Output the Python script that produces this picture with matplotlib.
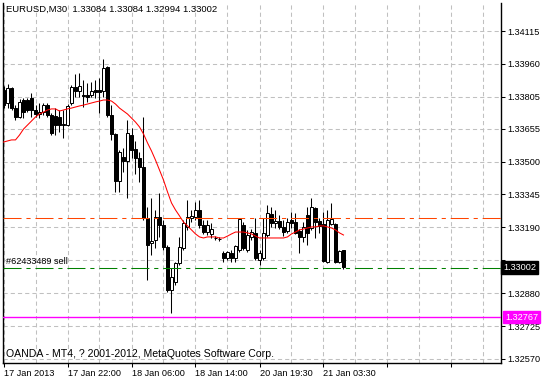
import numpy as np
import matplotlib
matplotlib.use("Agg")
import matplotlib.pyplot as plt
import matplotlib.transforms as mtransforms

plt.rcParams['font.family'] = ['Liberation Sans', 'DejaVu Sans']
plt.rcParams['lines.scale_dashes'] = False

# EURUSD M30 candles, oldest first
opens = [1.33837, 1.33776, 1.33847, 1.33752, 1.33710, 1.33790, 1.33790, 1.33799, 1.33743, 1.33724,
         1.33733, 1.33766, 1.33719, 1.33715, 1.33710, 1.33672, 1.33672, 1.33776, 1.33851, 1.33832,
         1.33814, 1.33814, 1.33814, 1.33837, 1.33837, 1.33832, 1.33945, 1.33719, 1.33630, 1.33408,
         1.33522, 1.33503, 1.33625, 1.33559, 1.33517, 1.33474, 1.33234, 1.33116, 1.33131, 1.33239,
         1.33201, 1.33098, 1.32895, 1.32933, 1.33022, 1.33093, 1.33192, 1.33234, 1.33239, 1.33272,
         1.33201, 1.33168, 1.33159, 1.33140, 1.33135, 1.33069, 1.33046, 1.33069, 1.33046, 1.33083,
         1.33201, 1.33083, 1.33145, 1.33164, 1.33036, 1.33046, 1.33154, 1.33253, 1.33211, 1.33220,
         1.33192, 1.33173, 1.33225, 1.33215, 1.33173, 1.33145, 1.33248, 1.33187, 1.33281, 1.33220,
         1.33206, 1.33027, 1.33206, 1.33206, 1.33027, 1.33084]
highs = [1.33856, 1.33865, 1.33851, 1.33766, 1.33795, 1.33799, 1.33799, 1.33823, 1.33766, 1.33776,
         1.33776, 1.33776, 1.33729, 1.33752, 1.33743, 1.33743, 1.33771, 1.33861, 1.33912, 1.33917,
         1.33884, 1.33870, 1.33875, 1.33884, 1.33894, 1.33983, 1.33950, 1.33766, 1.33635, 1.33555,
         1.33564, 1.33696, 1.33658, 1.33597, 1.33545, 1.33710, 1.33286, 1.33328, 1.33272, 1.33352,
         1.33225, 1.33107, 1.32999, 1.33027, 1.33145, 1.33225, 1.33319, 1.33272, 1.33310, 1.33319,
         1.33225, 1.33225, 1.33211, 1.33149, 1.33145, 1.33079, 1.33079, 1.33083, 1.33107, 1.33234,
         1.33215, 1.33178, 1.33182, 1.33234, 1.33083, 1.33234, 1.33295, 1.33286, 1.33272, 1.33248,
         1.33225, 1.33234, 1.33263, 1.33258, 1.33182, 1.33215, 1.33286, 1.33328, 1.33286, 1.33234,
         1.33263, 1.33272, 1.33305, 1.33211, 1.33083, 1.33084]
lows = [1.33752, 1.33752, 1.33743, 1.33696, 1.33705, 1.33705, 1.33733, 1.33710, 1.33710, 1.33705,
        1.33719, 1.33710, 1.33625, 1.33625, 1.33639, 1.33611, 1.33668, 1.33766, 1.33804, 1.33804,
        1.33757, 1.33781, 1.33804, 1.33799, 1.33729, 1.33804, 1.33710, 1.33602, 1.33357, 1.33357,
        1.33451, 1.33328, 1.33517, 1.33441, 1.33404, 1.33225, 1.32942, 1.33060, 1.33093, 1.33145,
        1.33083, 1.32886, 1.32787, 1.32919, 1.33013, 1.33083, 1.33178, 1.33215, 1.33225, 1.33187,
        1.33159, 1.33154, 1.33140, 1.33131, 1.33126, 1.33027, 1.33036, 1.33027, 1.33027, 1.33074,
        1.33083, 1.33074, 1.33131, 1.33036, 1.33013, 1.33036, 1.33145, 1.33192, 1.33187, 1.33182,
        1.33149, 1.33164, 1.33187, 1.33159, 1.33069, 1.33121, 1.33107, 1.33178, 1.33140, 1.33164,
        1.33027, 1.33022, 1.33201, 1.33022, 1.33022, 1.32994]
closes = [1.33766, 1.33847, 1.33752, 1.33710, 1.33781, 1.33733, 1.33743, 1.33743, 1.33724, 1.33733,
          1.33766, 1.33719, 1.33635, 1.33672, 1.33672, 1.33677, 1.33762, 1.33851, 1.33832, 1.33856,
          1.33809, 1.33804, 1.33832, 1.33828, 1.33828, 1.33941, 1.33719, 1.33630, 1.33408, 1.33545,
          1.33503, 1.33635, 1.33555, 1.33517, 1.33474, 1.33234, 1.33107, 1.33126, 1.33239, 1.33201,
          1.33098, 1.32895, 1.32956, 1.33022, 1.33098, 1.33211, 1.33239, 1.33244, 1.33272, 1.33201,
          1.33168, 1.33201, 1.33182, 1.33140, 1.33135, 1.33046, 1.33074, 1.33046, 1.33102, 1.33230,
          1.33093, 1.33154, 1.33168, 1.33046, 1.33069, 1.33164, 1.33258, 1.33211, 1.33220, 1.33192,
          1.33168, 1.33215, 1.33211, 1.33164, 1.33145, 1.33192, 1.33164, 1.33286, 1.33215, 1.33197,
          1.33032, 1.33225, 1.33230, 1.33027, 1.33079, 1.33002]
ma = [1.33592, 1.33597, 1.33602, 1.33602, 1.33625, 1.33653, 1.33672, 1.33691, 1.33710, 1.33724,
      1.33733, 1.33743, 1.33748, 1.33748, 1.33738, 1.33743, 1.33748, 1.33752, 1.33757, 1.33762,
      1.33766, 1.33771, 1.33776, 1.33781, 1.33785, 1.33790, 1.33790, 1.33785, 1.33771, 1.33752,
      1.33738, 1.33724, 1.33705, 1.33686, 1.33663, 1.33630, 1.33588, 1.33550, 1.33507, 1.33460,
      1.33413, 1.33357, 1.33305, 1.33272, 1.33244, 1.33215, 1.33197, 1.33178, 1.33159, 1.33145,
      1.33140, 1.33145, 1.33145, 1.33145, 1.33140, 1.33140, 1.33149, 1.33159, 1.33168, 1.33168,
      1.33168, 1.33164, 1.33159, 1.33149, 1.33140, 1.33140, 1.33140, 1.33140, 1.33140, 1.33140,
      1.33140, 1.33145, 1.33159, 1.33168, 1.33178, 1.33182, 1.33187, 1.33192, 1.33192, 1.33197,
      1.33197, 1.33192, 1.33187, 1.33178, 1.33164, 1.33154]

time_labels = ["17 Jan 2013", "17 Jan 22:00", "18 Jan 06:00", "18 Jan 14:00", "20 Jan 19:30", "21 Jan 03:30"]
price_ticks = [1.32570, 1.32725, 1.32880, 1.33035, 1.33190, 1.33345, 1.33500, 1.33655, 1.33805, 1.33960, 1.34115]

stop_price = 1.33232
order_price = 1.33000
bid_price = 1.33002
alert_price = 1.32767
order_text = "#62433489 sell"
header = "EURUSD,M30  1.33084 1.33084 1.32994 1.33002"
footer = "OANDA - MT4, ? 2001-2012, MetaQuotes Software Corp."

fig = plt.figure(figsize=(5.42, 3.80), dpi=100)
ax = fig.add_axes([3 / 542, 17 / 380, 498 / 542, 360 / 380])

x = np.arange(len(opens))
o = np.array(opens)
c = np.array(closes)
bottom = np.minimum(o, c)
height = np.maximum(np.abs(c - o), 1e-6)
colors = ['white' if cc >= oo else 'black' for oo, cc in zip(o, c)]

# grid: labelled ticks every 16 bars, extra grid line every 8
ax.set_xticks(np.arange(0, 125, 16))
ax.set_xticks(np.arange(8, 125, 16), minor=True)
ax.set_xticklabels(time_labels + [""] * (len(np.arange(0, 125, 16)) - len(time_labels)))
ax.set_yticks(price_ticks)
# the 1.33035 label sits under the bid price box
ax.set_yticklabels(["" if abs(p - 1.33035) < 1e-7 else "%.5f" % p for p in price_ticks])
ax.grid(True, which='both', color='#c0c0c0', linestyle=(0, (3, 2.2)), linewidth=0.75, zorder=0)
ax.set_axisbelow(True)

ax.vlines(x, lows, highs, color='black', linewidth=0.75, zorder=2)
ax.bar(x, height, 0.55, bottom=bottom, color=colors, edgecolor='black', linewidth=0.72, zorder=3)
ax.plot(x, ma, color='red', linewidth=0.75, zorder=4)

ax.axhline(stop_price, color='#ff4500', linewidth=0.75, linestyle=(0, (13, 3.5, 3, 3.5)), zorder=5)
ax.axhline(order_price, color='#008000', linewidth=0.75, linestyle=(0, (13, 3.5, 3, 3.5)), zorder=5)
ax.axhline(alert_price, color='magenta', linewidth=1.0, zorder=5)

ax.set_xlim(-0.125, 124.375)
ax.set_ylim(1.32551, 1.34247)

ax.yaxis.tick_right()
ax.tick_params(axis='y', which='major', length=3, width=0.75, pad=1.5, labelsize=6.6, colors='black')
ax.tick_params(axis='x', which='major', length=3, width=0.75, pad=1, labelsize=6.6)
ax.tick_params(axis='x', which='minor', length=0)
for lbl in ax.get_xticklabels():
    lbl.set_horizontalalignment('left')

for s in ['left', 'right', 'bottom']:
    ax.spines[s].set_linewidth(1.0)
    ax.spines[s].set_color('black')
ax.spines['top'].set_visible(False)

trans = mtransforms.blended_transform_factory(ax.transAxes, ax.transData)
ax.text(1.004, bid_price, "%.5f" % bid_price, transform=trans, ha='left', va='center',
        fontsize=6.6, color='white', zorder=10, clip_on=False,
        bbox=dict(boxstyle='square,pad=0.2', fc='black', ec='black'))
ax.text(1.008, alert_price, "%.5f" % alert_price, transform=trans, ha='left', va='center',
        fontsize=6.6, color='white', zorder=10, clip_on=False,
        bbox=dict(boxstyle='square,pad=0.2', fc='magenta', ec='magenta'))
ax.text(0.006, order_price + 0.00006, order_text, transform=trans, ha='left', va='bottom',
        fontsize=6.6, color='black', zorder=6)

ax.text(0.006, 0.983, header, transform=ax.transAxes, ha='left', va='center', fontsize=6.8, zorder=6)
ax.text(0.006, 0.025, footer, transform=ax.transAxes, ha='left', va='center', fontsize=7.6, zorder=6)

fig.savefig("out.png", dpi=100)
